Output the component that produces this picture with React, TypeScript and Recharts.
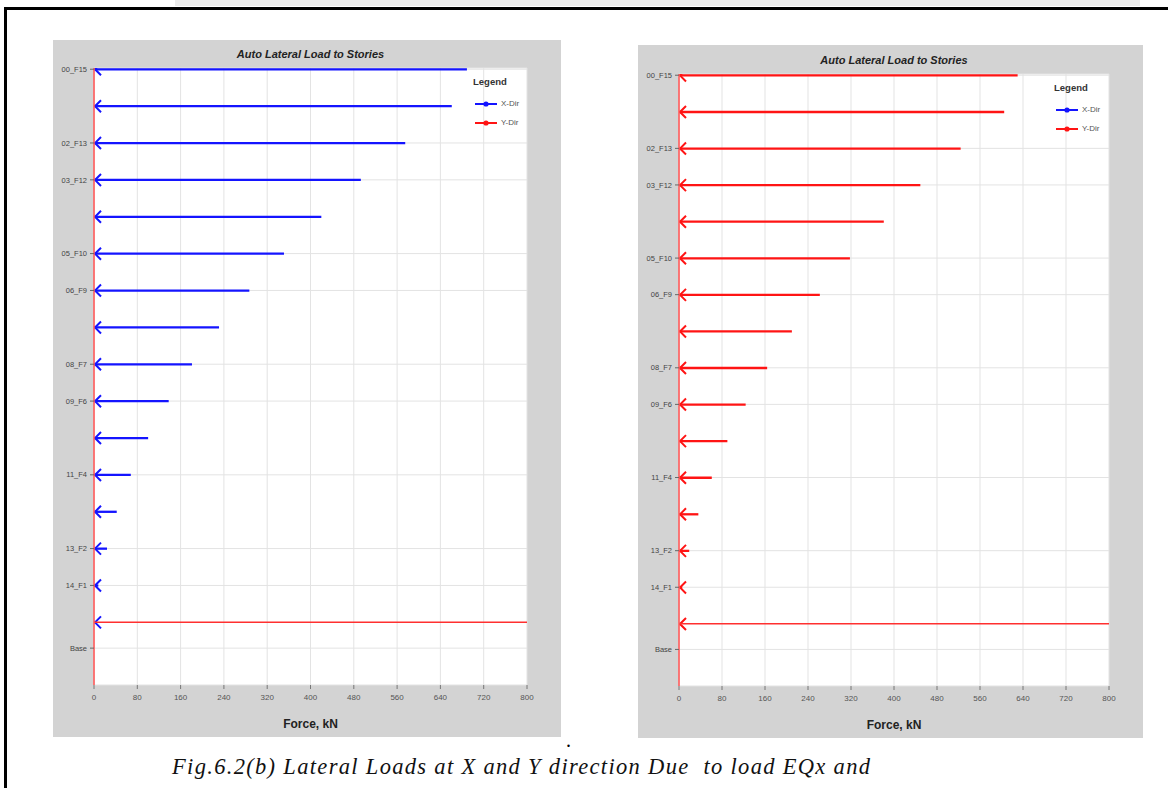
import React from 'react';
import { ComposedChart, Bar, XAxis, YAxis, CartesianGrid, ReferenceLine, Legend } from 'recharts';

// ---- data ----
const stories = ['00_F15', '01_F14', '02_F13', '03_F12', '04_F11', '05_F10', '06_F9', '07_F8', '08_F7', '09_F6', '10_F5', '11_F4', '12_F3', '13_F2', '14_F1', '15_PL', 'Base'];
const elevations = [47.1, 44.1, 41.1, 38.1, 35.1, 32.1, 29.1, 26.1, 23.1, 20.1, 17.1, 14.1, 11.1, 8.1, 5.1, 2.1, 0];
// load case EQx
const xDirEQx = [689, 661, 575, 493, 420, 351, 287, 231, 181, 138, 100, 68, 42, 24, 8, 3, 0];
const yDirEQx = [0, 0, 0, 0, 0, 0, 0, 0, 0, 0, 0, 0, 0, 0, 0, 0, 0];
// load case EQy
const xDirEQy = [0, 0, 0, 0, 0, 0, 0, 0, 0, 0, 0, 0, 0, 0, 0, 0, 0];
const yDirEQy = [630, 605, 524, 449, 381, 318, 262, 210, 164, 124, 90, 61, 36, 19, 6, 2, 0];
const labeledStories = ['00_F15', '02_F13', '03_F12', '05_F10', '06_F9', '08_F7', '09_F6', '11_F4', '13_F2', '14_F1', 'Base'];
const forceTicks = [0, 80, 160, 240, 320, 400, 480, 560, 640, 720, 800];
const seriesNames = ['X-Dir', 'Y-Dir'];
const seriesColors = ['#1414ff', '#ff1414'];
const chartTitle = 'Auto Lateral Load to Stories';
const axisTitle = 'Force, kN';
const caption = 'Fig.6.2(b) Lateral Loads at X and Y direction Due  to load EQx and';

const SANS = '"Liberation Sans", Arial, sans-serif';

const makeArrow = (color: string) => (props: any) => {
  const { x, y, width, height } = props;
  if (!width || width < 0.5 || !isFinite(x) || !isFinite(y)) return <g />;
  const cy = y + height / 2;
  return (
    <g>
      <line x1={x} y1={cy} x2={x + width} y2={cy} stroke={color} strokeWidth={2.3} />
      <polyline
        points={`${x + 7},${cy - 6} ${x + 1},${cy} ${x + 7},${cy + 6}`}
        fill="none"
        stroke={color}
        strokeWidth={2}
      />
    </g>
  );
};

const LegendBox = (props: any) => {
  const payload = props.payload || [];
  return (
    <div style={{ fontFamily: SANS, color: '#333' }}>
      <div style={{ fontSize: 9.5, fontWeight: 'bold', height: 21, lineHeight: '18px', paddingLeft: 1 }}>Legend</div>
      {payload.map((p: any, i: number) => (
        <div key={i} style={{ height: 19, display: 'flex', alignItems: 'center' }}>
          <svg width={26} height={8} style={{ marginLeft: 3 }}>
            <line x1={0} y1={4} x2={22} y2={4} stroke={p.color} strokeWidth={2} />
            <circle cx={11} cy={4} r={2.6} fill={p.color} />
          </svg>
          <span style={{ fontSize: 8, color: '#555' }}>{p.value}</span>
        </div>
      ))}
    </div>
  );
};

type PanelProps = {
  left: number; top: number; width: number; height: number;
  plotTop: number; plotRight: number; legendLeft: number;
  xVals: number[]; yVals: number[];
};

const Panel = ({ left, top, width, height, plotTop, plotRight, legendLeft, xVals, yVals }: PanelProps) => {
  const data = stories.map((s, i) => ({ story: s, elev: elevations[i], xDir: xVals[i], yDir: yVals[i] }));
  const tickElevs = labeledStories.map((s) => elevations[stories.indexOf(s)]);
  const nameOf = (v: number) => {
    const i = elevations.indexOf(v);
    return i >= 0 ? stories[i] : '';
  };
  const yAxisW = 41;
  const xAxisH = 52;
  const plotW = width - yAxisW - plotRight;
  return (
    <div style={{ position: 'absolute', left, top, width, height, background: '#d3d3d3' }}>
      <div style={{
        position: 'absolute', left: yAxisW, top: plotTop - 21, width: plotW, textAlign: 'center',
        fontFamily: SANS, fontSize: 11, fontWeight: 'bold', fontStyle: 'italic', color: '#222', lineHeight: '14px',
      }}>{chartTitle}</div>
      <ComposedChart
        width={width}
        height={height}
        data={data}
        layout="vertical"
        margin={{ top: plotTop, right: plotRight, bottom: 0, left: 0 }}
        style={{ position: 'absolute', left: 0, top: 0 }}
      >
        <CartesianGrid fill="#ffffff" stroke="#e3e3e3" strokeWidth={1} />
        <XAxis
          type="number"
          domain={[0, 800]}
          ticks={forceTicks}
          interval={0}
          height={xAxisH}
          axisLine={false}
          tickLine={{ stroke: '#777' }}
          tickSize={4}
          tickMargin={5}
          tick={{ fontSize: 8, fill: '#555', fontFamily: SANS }}
          label={{ value: axisTitle, position: 'insideBottom', offset: 9, style: { fontSize: 12, fontWeight: 'bold', fill: '#222', fontFamily: SANS } }}
          allowDataOverflow
        />
        <YAxis
          type="number"
          dataKey="elev"
          domain={[-3, 47.2]}
          ticks={tickElevs}
          interval={0}
          reversed
          width={yAxisW}
          axisLine={{ stroke: '#ff5a5a', strokeWidth: 1.6 }}
          tickLine={{ stroke: '#666' }}
          tickSize={4}
          tickMargin={3}
          tickFormatter={nameOf}
          tick={{ fontSize: 7.5, fill: '#444', fontFamily: SANS }}
          allowDataOverflow
        />
        <ReferenceLine y={elevations[15]} stroke="#ff3030" strokeWidth={1.6} />
        <Bar dataKey="xDir" name={seriesNames[0]} fill={seriesColors[0]} stackId="s" barSize={12} shape={makeArrow(seriesColors[0])} isAnimationActive={false} />
        <Bar dataKey="yDir" name={seriesNames[1]} fill={seriesColors[1]} stackId="s" barSize={12} shape={makeArrow(seriesColors[1])} isAnimationActive={false} />
        <Legend
          layout="horizontal"
          verticalAlign="middle"
          align="center"
          content={<LegendBox />}
          wrapperStyle={{ left: legendLeft, top: plotTop + 5, width: 90, height: 62 }}
        />
      </ComposedChart>
    </div>
  );
};

export default function App() {
  return (
    <div style={{ position: 'absolute', left: 0, top: 0, width: 1168, height: 788, background: '#fff', overflow: 'hidden' }}>
      <div style={{ position: 'absolute', left: 175, top: 0, width: 965, height: 6, background: '#ececec' }} />
      <div style={{ position: 'absolute', left: 4, top: 7, width: 1164, height: 2.5, background: '#000' }} />
      <div style={{ position: 'absolute', left: 4, top: 7, width: 2.5, height: 781, background: '#000' }} />
      <Panel left={53} top={40} width={508} height={697} plotTop={28} plotRight={34} legendLeft={419} xVals={xDirEQx} yVals={yDirEQx} />
      <Panel left={638} top={45} width={505} height={693} plotTop={29} plotRight={34} legendLeft={415} xVals={xDirEQy} yVals={yDirEQy} />
      <svg width={1168} height={788} style={{ position: 'absolute', left: 0, top: 0, pointerEvents: 'none' }}>
        <text x={566} y={747} fontFamily='"Liberation Serif", "Times New Roman", serif' fontSize={20}>.</text>
        <text
          x={172}
          y={774}
          textLength={698}
          lengthAdjust="spacing"
          fontFamily='"Liberation Serif", "Times New Roman", serif'
          fontStyle="italic"
          fontSize={22.5}
          fill="#111"
          style={{ whiteSpace: 'pre' }}
        >{caption}</text>
      </svg>
    </div>
  );
}
